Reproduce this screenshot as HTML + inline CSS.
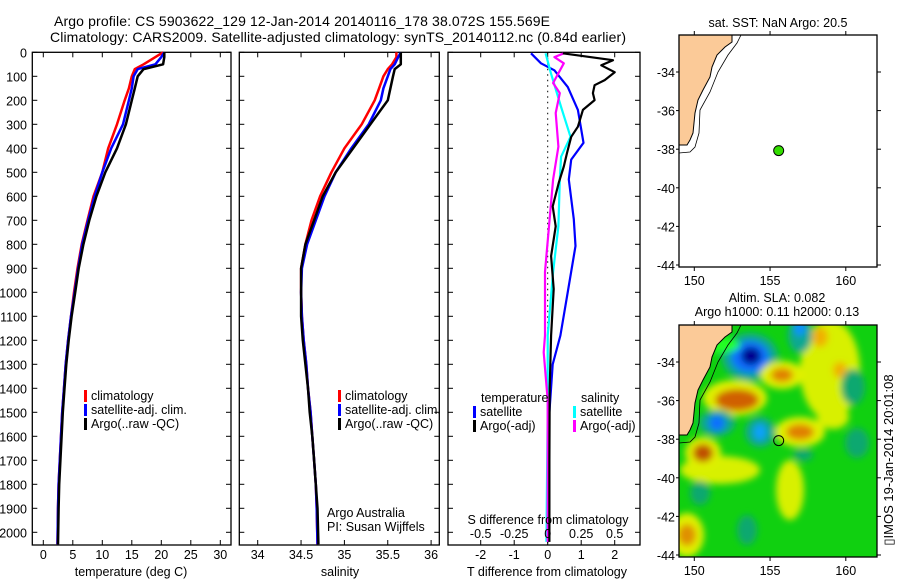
<!DOCTYPE html>
<html><head><meta charset="utf-8">
<style>
body{margin:0;background:#fff;}
svg{display:block;font-family:"Liberation Sans",sans-serif;}
text{fill:#000;}
</style></head>
<body>
<svg id="chart" width="900" height="580" viewBox="0 0 900 580">
<defs>
<filter id="blur" x="-50%" y="-50%" width="200%" height="200%"><feGaussianBlur stdDeviation="3.5"/></filter>
<clipPath id="mapclip"><rect x="679" y="325" width="198" height="232"/></clipPath>
</defs>
<text x="54" y="26" font-size="14" textLength="496">Argo profile: CS 5903622_129 12-Jan-2014 20140116_178 38.072S 155.569E</text>
<text x="50" y="42" font-size="14" textLength="576">Climatology: CARS2009. Satellite-adjusted climatology: synTS_20140112.nc (0.84d earlier)</text>
<g id="p1"></g>
<g id="p2"></g>
<g id="p3"></g>
<g id="m1"></g>
<g id="m2"></g>
<text transform="translate(893,460) rotate(-90)" font-size="13" text-anchor="middle">▯IMOS 19-Jan-2014 20:01:08</text>
</svg>
<script>
const NS='http://www.w3.org/2000/svg';
// ---- data ----
const depths=[0,20,50,70,100,150,200,300,400,500,600,700,800,900,1000,1100,1200,1300,1400,1500,1600,1700,1800,1900,2050];
const tempArgo=[20.5,20.5,20.3,17,16,15.5,15,14,12.5,10.5,9,7.8,6.8,6,5.4,4.8,4.3,3.9,3.6,3.3,3.1,2.9,2.7,2.6,2.5];
const tempClim=[20.3,19,17,15.5,15,14.5,13.8,12.5,11,10,8.5,7.5,6.5,5.8,5.2,4.7,4.2,3.8,3.5,3.2,3.0,2.8,2.6,2.5,2.4];
const tempSat=[20.5,20,19,16,15.3,15,14.5,13.5,11.5,10,8.7,7.6,6.6,5.9,5.3,4.7,4.2,3.8,3.5,3.2,3.0,2.8,2.6,2.5,2.4];
const salArgo=[35.65,35.65,35.65,35.58,35.56,35.53,35.5,35.3,35.1,34.9,34.75,34.65,34.55,34.5,34.5,34.5,34.52,34.55,34.58,34.6,34.63,34.65,34.67,34.69,34.7];
const salClim=[35.6,35.6,35.55,35.5,35.45,35.4,35.35,35.2,35.0,34.85,34.72,34.62,34.55,34.5,34.5,34.51,34.53,34.56,34.58,34.61,34.63,34.65,34.67,34.68,34.69];
const salSat=[35.65,35.62,35.58,35.53,35.5,35.45,35.42,35.28,35.08,34.9,34.77,34.67,34.57,34.51,34.5,34.51,34.53,34.56,34.58,34.61,34.63,34.65,34.67,34.68,34.69];
const dDepths=[4,33,54,83,116,137,170,199,240,310,352,418,476,543,642,725,849,986,1180,1400,1700,2040];
const dTArgo=[0.45,1.95,1.6,2.0,1.7,1.4,1.35,1.4,1.05,0.9,0.7,0.58,0.48,0.33,0.15,0.24,0.1,0.18,0.1,0.06,0.05,0.05];
const dDepthsSat=[4,46,75,145,240,377,447,530,696,807,998,1180,1300,1500,2040];
const dTSat=[-0.5,-0.2,0.2,0.6,0.9,1.07,0.7,0.63,0.78,0.83,0.6,0.38,0.15,0.05,0.02];
const sDepths=[4,87,228,352,435,530,725,915,1180,1500,2040];
const dSSat=[-0.016,0.024,0.1,0.17,0.1,0.09,0.08,0.04,0,0,-0.01];
const sDepthsArgo=[4,20,46,128,170,253,393,530,725,915,1180,1250,1450,2040];
const dSArgo=[0.12,0.05,0.12,0.04,0.09,0.06,0.08,0.04,0.01,-0.02,-0.02,-0.03,0,0];
const depthTicks=[0,100,200,300,400,500,600,700,800,900,1000,1100,1200,1300,1400,1500,1600,1700,1800,1900,2000];
const tempTicks=[0,5,10,15,20,25,30];
const salTicks=[34,34.5,35,35.5,36];
const tdTicks=[-2,-1,0,1,2];
const sdTicks=[-0.5,-0.25,0,0.25,0.5];
const lonTicks=[150,155,160];
const latTicks=[-34,-36,-38,-40,-42,-44];
const argoLon=155.569, argoLat=-38.072;
// ---- helpers ----
const FS=12.5;
function el(tag,attrs,parent,txt){const e=document.createElementNS(NS,tag);for(const k in attrs)e.setAttribute(k,attrs[k]);if(txt!==undefined)e.textContent=txt;parent.appendChild(e);return e;}
const TOP=52.3, BOT=545;
const yD=d=>TOP+d*0.24;
function frame(g,x0,x1){const r=el('rect',{x:x0,y:TOP,width:x1-x0,height:BOT-TOP,fill:'none',stroke:'#000','stroke-width':1.3},g);}
function depthAxis(g,x0,x1,labels){depthTicks.forEach(d=>{const y=yD(d);el('line',{x1:x0,x2:x0+5,y1:y,y2:y,stroke:'#000'},g);el('line',{x1:x1,x2:x1-5,y1:y,y2:y,stroke:'#000'},g);if(labels){const t=el('text',{x:27,y:y+5,'font-size':FS,'text-anchor':'end'},g,String(d));}});}
function xAxis(g,ticks,xf,name,title,tx){ticks.forEach(v=>{const x=xf(v);el('line',{x1:x,x2:x,y1:BOT,y2:BOT-5,stroke:'#000'},g);el('line',{x1:x,x2:x,y1:TOP,y2:TOP+5,stroke:'#000'},g);const t=el('text',{x:x,y:559,'font-size':FS,'text-anchor':'middle'},g,String(v));});const t=el('text',{x:tx,y:576,'font-size':FS,'text-anchor':'middle'},g,title);}
function profile(g,ds,vals,xf,col,name,w){const pts=ds.map((d,i)=>xf(vals[i]).toFixed(1)+','+yD(d).toFixed(1)).join(' ');const p=el('polyline',{points:pts,fill:'none',stroke:col,'stroke-width':w||2.5,'stroke-linejoin':'round'},g);}
function legend(g,x,y,items){items.forEach((it,i)=>{const yy=y+i*14;el('rect',{x:x,y:yy-10,width:3,height:12,fill:it[1]},g);const t=el('text',{x:x+7,y:yy,'font-size':FS},g,it[0]);});}
// ---- panel 1 ----
const p1=document.getElementById('p1');
const xT=v=>43.3+v*5.9;
frame(p1,32.3,231);depthAxis(p1,32.3,231,true);xAxis(p1,tempTicks,xT,'temperature','temperature (deg C)',131);
profile(p1,depths,tempClim,xT,'#ff0000','climatology-temp-line');
profile(p1,depths,tempSat,xT,'#0000ff','satellite-temp-line');
profile(p1,depths,tempArgo,xT,'#000000','argo-temp-line');
legend(p1,84,400,[['climatology','#ff0000'],['satellite-adj. clim.','#0000ff'],['Argo(..raw -QC)','#000']]);
// ---- panel 2 ----
const p2=document.getElementById('p2');
const xS=v=>257.7+(v-34)*86.7;
frame(p2,239.3,439.3);depthAxis(p2,239.3,439.3,false);xAxis(p2,salTicks,xS,'salinity','salinity',340);
profile(p2,depths,salClim,xS,'#ff0000','climatology-sal-line');
profile(p2,depths,salSat,xS,'#0000ff','satellite-sal-line');
profile(p2,depths,salArgo,xS,'#000000','argo-sal-line');
legend(p2,338,400,[['climatology','#ff0000'],['satellite-adj. clim.','#0000ff'],['Argo(..raw -QC)','#000']]);
let t=el('text',{x:327,y:517,'font-size':FS},p2,'Argo Australia');
t=el('text',{x:327,y:531,'font-size':FS},p2,'PI: Susan Wijffels');
// ---- panel 3 ----
const p3=document.getElementById('p3');
const xTD=v=>547.7+v*33.5, xSD=v=>547.7+v*134;
frame(p3,448,640);depthAxis(p3,448,640,false);xAxis(p3,tdTicks,xTD,'t-diff','T difference from climatology',547);
el('line',{x1:xTD(0),x2:xTD(0),y1:TOP,y2:BOT,stroke:'#000','stroke-dasharray':'1.5,4'},p3);
profile(p3,dDepthsSat,dTSat,xTD,'#0000ff','satellite-t-diff-line',2.2);
profile(p3,sDepths,dSSat,xSD,'#00ffff','satellite-s-diff-line',2.2);
profile(p3,sDepthsArgo,dSArgo,xSD,'#ff00ff','argo-s-diff-line',2.2);
profile(p3,dDepths,dTArgo,xTD,'#000000','argo-t-diff-line',2.2);
t=el('text',{x:481,y:402,'font-size':FS},p3,'temperature');
t=el('text',{x:581,y:402,'font-size':FS},p3,'salinity');
legend(p3,473,416,[['satellite','#0000ff'],['Argo(-adj)','#000']]);
legend(p3,573,416,[['satellite','#00ffff'],['Argo(-adj)','#ff00ff']]);
t=el('text',{x:548,y:524,'font-size':FS,'text-anchor':'middle'},p3,'S difference from climatology');
sdTicks.forEach(v=>{const tt=el('text',{x:xSD(v),y:538,'font-size':FS,'text-anchor':'middle'},p3,String(v));});
// ---- maps ----
const MX0=679,MX1=877;
const lonX=l=>694.3+(l-150)*15.15;
function mapAxes(g,top){const latY=la=>top+37+(-34-la)*19.3;
 el('rect',{x:MX0,y:top,width:MX1-MX0,height:232,fill:'none',stroke:'#000','stroke-width':1.3},g);
 lonTicks.forEach(l=>{const x=lonX(l);el('line',{x1:x,x2:x,y1:top,y2:top-4,stroke:'#000'},g);el('line',{x1:x,x2:x,y1:top+232,y2:top+236,stroke:'#000'},g);const tt=el('text',{x:x,y:top+250,'font-size':FS,'text-anchor':'middle'},g,String(l));});
 latTicks.forEach(la=>{const y=latY(la);el('line',{x1:MX1,x2:MX1+4,y1:y,y2:y,stroke:'#000'},g);el('line',{x1:MX0,x2:MX0-3,y1:y,y2:y,stroke:'#000'},g);const tt=el('text',{x:675,y:y+5,'font-size':FS,'text-anchor':'end'},g,String(la));});
 return latY;}
function land(g,off){const pts=[[679,35],[732,35],[732,42],[725,47],[717,55],[712,67],[710,77],[703,90],[698,100],[695,113],[693,133],[690,140],[687,145],[679,145]];
 const p=el('polygon',{points:pts.map(p=>p[0]+','+(p[1]+off)).join(' '),fill:'#fbca98',stroke:'#000','stroke-width':1},g);
 const c=[[741,35],[737,43],[728,55],[718,72],[710,92],[700,110],[699,133],[695,147],[690,152],[679,153]];
 el('polyline',{points:c.map(p=>p[0]+','+(p[1]+off)).join(' '),fill:'none',stroke:'#000','stroke-width':0.8},g);}
const m1=document.getElementById('m1');
t=el('text',{x:778,y:27,'font-size':FS,'text-anchor':'middle'},m1,'sat. SST: NaN Argo: 20.5');
land(m1,0);
const ly1=mapAxes(m1,35);
let c=el('circle',{cx:lonX(argoLon),cy:ly1(argoLat),r:5,fill:'#33dd00',stroke:'#000'},m1);
const m2=document.getElementById('m2');
t=el('text',{x:777,y:302,'font-size':FS,'text-anchor':'middle'},m2,'Altim. SLA: 0.082');
t=el('text',{x:777,y:316,'font-size':FS,'text-anchor':'middle'},m2,'Argo h1000: 0.11 h2000: 0.13');
const field=el('g',{'clip-path':'url(#mapclip)'},m2);
el('rect',{x:679,y:325,width:198,height:232,fill:'#10d010'},field);
const bg=el('g',{filter:'url(#blur)'},field);
const blobs=[
[830,370,30,50,'#d8f000'],[790,490,14,30,'#d8f000'],[833,417,16,12,'#d8f000'],[720,470,40,14,'#d8f000'],
[750,357,28,24,'#10a890'],[750,357,19,16,'#1070ff'],[751,356,10,9,'#000090'],
[800,335,12,18,'#10a890'],[800,328,6,8,'#1090ff'],
[782,375,22,14,'#e0f000'],[782,375,11,7,'#e08000'],
[735,398,32,18,'#e0f000'],[737,400,22,11,'#d06000'],
[717,423,18,13,'#10a890'],[717,423,8,8,'#1070ff'],
[760,432,15,15,'#10a890'],[760,432,6,8,'#10a0ff'],
[800,432,25,15,'#e0f000'],[800,432,14,8,'#e08000'],
[703,453,18,16,'#e0f000'],[703,453,10,9,'#c05000'],
[687,535,17,22,'#e0f000'],[687,535,9,11,'#e09000'],
[820,337,8,10,'#f0b000'],[840,370,7,8,'#f0b000'],
[853,387,12,18,'#10a870'],[857,443,12,15,'#10a870'],[803,455,10,6,'#10a870'],[747,530,10,15,'#10a870'],[700,493,10,12,'#10a870'],[720,345,20,8,'#20ff20']];
blobs.forEach(b=>el('ellipse',{cx:b[0],cy:b[1],rx:b[2],ry:b[3],fill:b[4]},bg));
land(field,290);
const ly2=mapAxes(m2,325);
c=el('circle',{cx:lonX(argoLon),cy:ly2(argoLat),r:5,fill:'none',stroke:'#000'},m2);
</script>
</body></html>
